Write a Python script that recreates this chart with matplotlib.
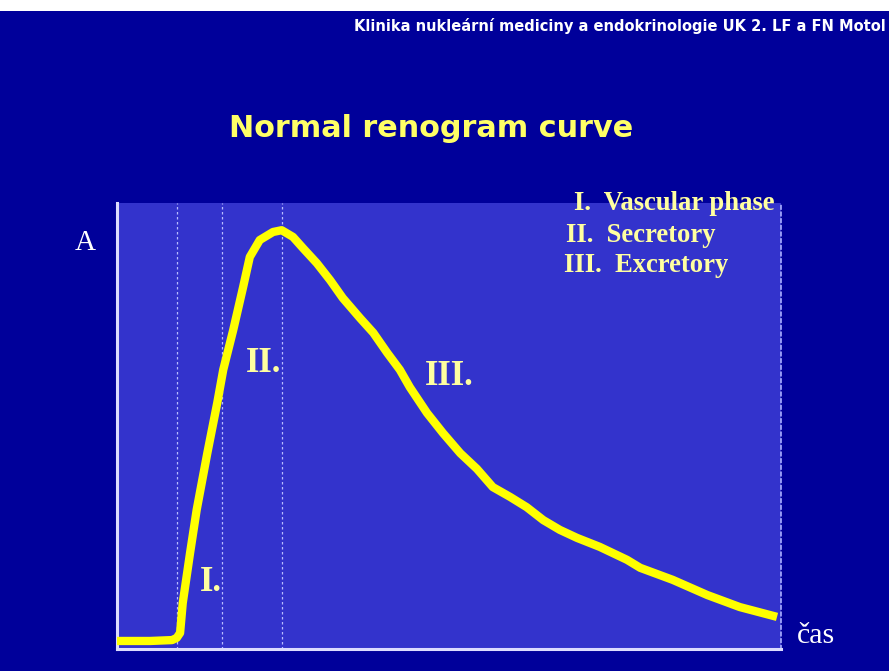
import matplotlib
matplotlib.use("Agg")
import matplotlib.pyplot as plt

# Renogram curve (time in % of axis, activity in % of axis)
time_vals = [0.0, 5.0, 8.3, 9.0, 9.5, 9.9, 11.0, 12.0, 13.6, 15.1, 16.0, 17.5, 19.0,
             20.0, 21.5, 23.5, 24.8, 26.5, 28.0, 30.1, 32.1, 34.0, 36.6, 38.6, 40.7,
             42.6, 44.1, 46.7, 49.1, 51.7, 54.2, 56.6, 59.2, 61.7, 64.2, 66.7, 69.3,
             72.7, 76.8, 78.8, 83.7, 88.9, 93.8, 99.4]
activity_vals = [1.8, 1.8, 2.0, 2.5, 3.6, 10.3, 21.5, 31.2, 43.9, 55.2, 62.6, 71.5, 81.2,
                 87.9, 91.7, 93.5, 93.9, 92.4, 89.9, 86.5, 82.7, 78.7, 74.2, 70.9, 66.4,
                 62.6, 58.7, 52.9, 48.4, 43.9, 40.4, 36.3, 34.1, 31.8, 28.9, 26.7, 24.9,
                 22.9, 20.0, 18.2, 15.5, 12.1, 9.4, 7.2]
phase_bounds = [9.0, 15.8, 24.8]
phase_labels = ["I.", "II.", "III."]
phase_label_pos = [(14.2, 14.8), (22.0, 64.1), (50.0, 61.2)]
legend_lines = ["I.  Vascular phase", "II.  Secretory", "III.  Excretory"]

W, H = 889, 671
BG = "#00009a"
PLOT_BG = "#3333cc"
CURVE = "#ffff00"
PALE = "#ffffa0"

fig = plt.figure(figsize=(W / 100, H / 100), dpi=100)
fig.patch.set_facecolor(BG)

def fx(px):
    return px / W

def fy(py):
    return 1 - py / H

# white strip at top
fig.add_artist(plt.Rectangle((0, fy(11)), 1, 11 / H, transform=fig.transFigure,
                             facecolor="white", edgecolor="none"))

ax = fig.add_axes([fx(117), fy(649), (781 - 117) / W, (649 - 203) / H])
ax.set_facecolor(PLOT_BG)
ax.set_xlim(0, 100)
ax.set_ylim(0, 100)
ax.set_xticks([])
ax.set_yticks([])
ax.spines["top"].set_visible(False)
ax.spines["right"].set_color("#aab0ff")
ax.spines["right"].set_linestyle((0, (2, 2)))
ax.spines["right"].set_linewidth(1.2)
for s in ["left", "bottom"]:
    ax.spines[s].set_color("#dcdcff")
    ax.spines[s].set_linewidth(2.2)

for b in phase_bounds:
    ax.axvline(b, color="#b8bcff", lw=0.9, ls=(0, (2, 2)), zorder=1)

ax.plot(time_vals, activity_vals, color=CURVE, lw=6.0, solid_capstyle="butt",
        solid_joinstyle="round", zorder=3)

for lab, (x, y) in zip(phase_labels, phase_label_pos):
    ax.text(x, y, lab, color=PALE, fontsize=25, family="Liberation Serif",
            fontweight="bold", ha="center", va="center", zorder=4)

# header
fig.text(fx(886), fy(31), "Klinika nukleární mediciny a endokrinologie UK 2. LF a FN Motol",
         color="white", fontsize=10.5, family="DejaVu Sans", fontweight="bold",
         ha="right", va="baseline")

# title
fig.text(fx(431), fy(137), "Normal renogram curve", color="#ffff66", fontsize=21.8,
         family="DejaVu Sans", fontweight="bold", ha="center", va="baseline")

# axis labels
fig.text(fx(85), fy(250), "A", color="white", fontsize=21, family="Liberation Serif",
         ha="center", va="baseline")
fig.text(fx(797), fy(643), "čas", color="white", fontsize=21.5, family="Liberation Serif",
         ha="left", va="baseline")

# legend text
leg_pos = [(574, 203), (566, 235), (564, 266)]
for t, (x, y) in zip(legend_lines, leg_pos):
    fig.text(fx(x), fy(y), t, color=PALE, fontsize=19.2, family="Liberation Serif",
             fontweight="bold", ha="left", va="center")

fig.savefig("out.png", dpi=100, facecolor=BG)
